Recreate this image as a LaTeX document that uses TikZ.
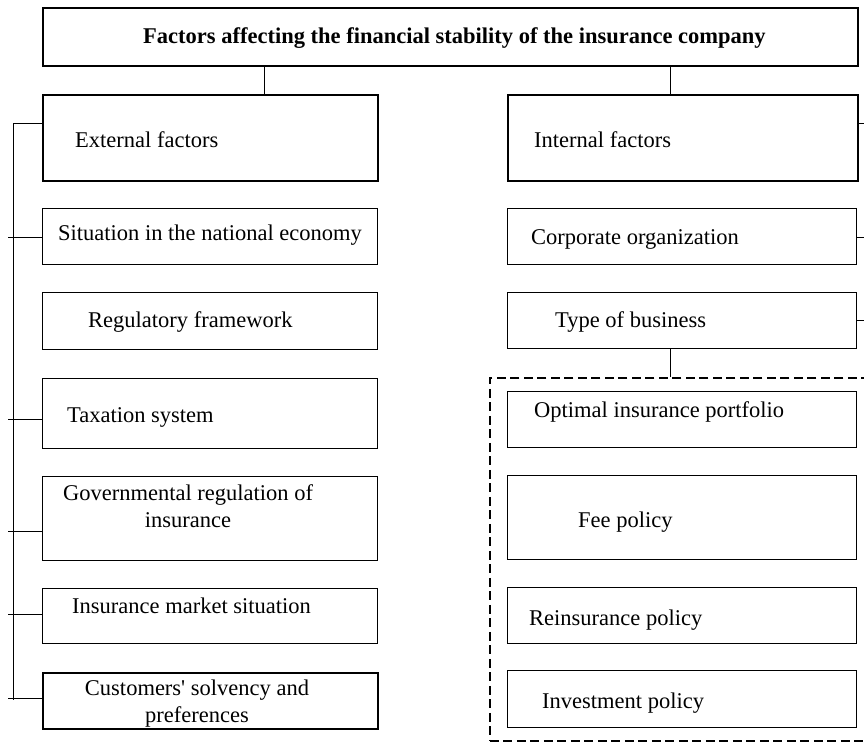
\documentclass[tikz,border=0pt]{standalone}
\usepackage{fontspec}
\setmainfont{Liberation Serif}
\newfontfamily\rawserif{Liberation Serif}[Ligatures=TeXOff]

\begin{document}
\begin{tikzpicture}[x=1pt, y=-1pt,
  fbox/.style={rectangle, draw=black, line width=1pt, anchor=north west, inner sep=0pt},
  bigbox/.style={fbox, line width=2.2pt},
  grpbox/.style={fbox, line width=1.8pt, dash pattern=on 9pt off 4.5pt},
  lbl/.style={anchor=base west, inner sep=0pt, font=\fontsize{22.5}{27}\selectfont},
  lbltwo/.style={lbl, anchor=base, align=center},
  link/.style={line width=0.9pt}]
  \useasboundingbox (0,0) rectangle (864,742);

  % boxes
  \node[bigbox, minimum width=815pt, minimum height=58pt] (title) at (42,7) {};
  \node[bigbox, minimum width=335pt, minimum height=86pt] (ext) at (42,94) {};
  \node[bigbox, minimum width=350pt, minimum height=86pt] (int) at (507,94) {};
  \node[fbox, minimum width=335pt, minimum height=56pt] (sit) at (42,208) {};
  \node[fbox, minimum width=335pt, minimum height=57pt] (reg) at (42,292) {};
  \node[fbox, minimum width=335pt, minimum height=70pt] (tax) at (42,378) {};
  \node[fbox, minimum width=335pt, minimum height=84pt] (gov) at (42,476) {};
  \node[fbox, minimum width=335pt, minimum height=55pt] (mkt) at (42,588) {};
  \node[bigbox, minimum width=335pt, minimum height=56pt] (cust) at (42,672) {};
  \node[fbox, minimum width=349pt, minimum height=56pt] (corp) at (507,208) {};
  \node[fbox, minimum width=349pt, minimum height=56pt] (type) at (507,292) {};
  \node[grpbox, minimum width=380pt, minimum height=363pt] (grp) at (489,377) {};
  \node[fbox, minimum width=349pt, minimum height=56pt] (opt) at (507,391) {};
  \node[fbox, minimum width=349pt, minimum height=84pt] (fee) at (507,475) {};
  \node[fbox, minimum width=349pt, minimum height=56pt] (reins) at (507,587) {};
  \node[fbox, minimum width=349pt, minimum height=57pt] (inv) at (507,670) {};

  % texts (two-line ones sit on the last line's baseline)
  \node[lbl, font=\fontsize{22.5}{27}\selectfont\bfseries] (title-t) at (143,43) {Factors affecting the financial stability of the insurance company};
  \node[lbl] (ext-t) at (75,147) {External factors};
  \node[lbl] (int-t) at (534,147) {Internal factors};
  \node[lbl] (sit-t) at (58,240) {Situation in the national economy};
  \node[lbl] (reg-t) at (88,327) {Regulatory framework};
  \node[lbl] (tax-t) at (67,422) {Taxation system};
  \node[lbltwo] (gov-t) at (188,527) {Governmental regulation of\\insurance};
  \node[lbl] (mkt-t) at (72,613) {Insurance market situation};
  \node[lbltwo] (cust-t) at (197,722) {Customers{\rawserif '} solvency and\\preferences};
  \node[lbl] (corp-t) at (531,244) {Corporate organization};
  \node[lbl] (type-t) at (555,327) {Type of business};
  \node[lbl] (opt-t) at (534,417) {Optimal insurance portfolio};
  \node[lbl] (fee-t) at (578,527) {Fee policy};
  \node[lbl] (reins-t) at (529,625) {Reinsurance policy};
  \node[lbl] (inv-t) at (542,708) {Investment policy};

  % links
  \coordinate (extjoin) at (264,0);
  \coordinate (intjoin) at (670,0);
  \coordinate (typejoin) at (670,0);
  \coordinate (lbus) at (13,0);
  \draw[link] (title.south -| extjoin) -- (ext.north -| extjoin);
  \draw[link] (title.south -| intjoin) -- (int.north -| intjoin);
  \draw[link] (type.south -| typejoin) -- (grp.north -| typejoin);
  \draw[link] (lbus |- 0,123) -- (ext.west |- 0,123);
  \draw[link] (lbus |- 0,123) -- (lbus |- 0,700);
  \foreach \nm/\yy in {sit/237, tax/419, gov/531, mkt/614, cust/698}
    \draw[link] (8,\yy) -- (\nm.west |- 0,\yy);
  \foreach \nm/\yy in {int/123, corp/237, type/320}
    \draw[link] (\nm.east |- 0,\yy) -- (870,\yy);
\end{tikzpicture}
\end{document}
